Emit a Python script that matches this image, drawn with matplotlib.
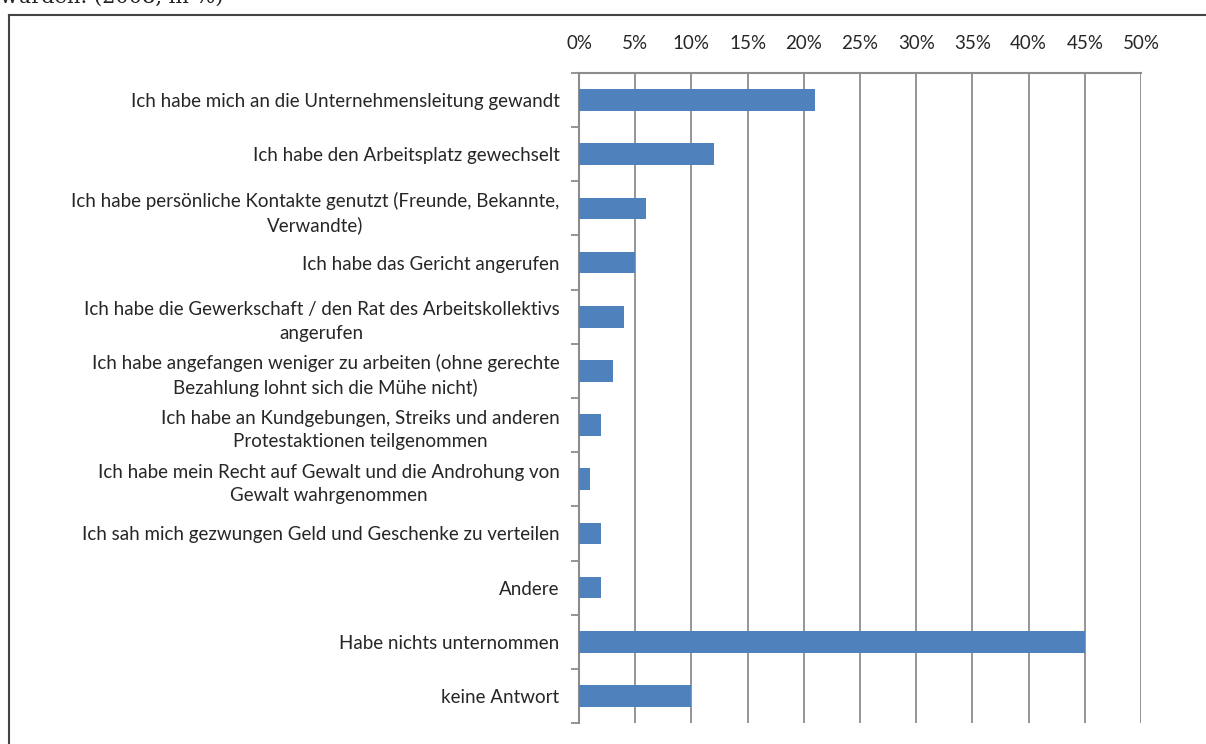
import numpy as np
import matplotlib.pyplot as plt
from matplotlib.lines import Line2D
from matplotlib.ticker import FuncFormatter, FixedLocator

plt.rcParams['font.family'] = ['Lato', 'DejaVu Sans']

categories = [
    "Ich habe mich an die Unternehmensleitung gewandt",
    "Ich habe den Arbeitsplatz gewechselt",
    "Ich habe persönliche Kontakte genutzt (Freunde, Bekannte,\nVerwandte)",
    "Ich habe das Gericht angerufen",
    "Ich habe die Gewerkschaft / den Rat des Arbeitskollektivs\nangerufen",
    "Ich habe angefangen weniger zu arbeiten (ohne gerechte\nBezahlung lohnt sich die Mühe nicht)",
    "Ich habe an Kundgebungen, Streiks und anderen\nProtestaktionen teilgenommen",
    "Ich habe mein Recht auf Gewalt und die Androhung von\nGewalt wahrgenommen",
    "Ich sah mich gezwungen Geld und Geschenke zu verteilen",
    "Andere",
    "Habe nichts unternommen",
    "keine Antwort",
]
values = [21, 12, 6, 5, 4, 3, 2, 1, 2, 2, 45, 10]
x_ticks = [0, 5, 10, 15, 20, 25, 30, 35, 40, 45, 50]

fig = plt.figure(figsize=(12.06, 7.44), dpi=100)
ax = fig.add_axes([0.4801, 0.0282, 0.9461 - 0.4801, 0.9019 - 0.0282])

y = np.arange(len(categories))
ax.barh(y, values, height=0.4, color='#4F81BD', zorder=3)

ax.set_xlim(0, 50)
ax.set_ylim(len(categories) - 0.5, -0.5)
ax.xaxis.set_major_locator(FixedLocator(x_ticks))
ax.xaxis.set_major_formatter(FuncFormatter(lambda v, p: f"{v:.0f}%"))
ax.xaxis.tick_top()
ax.tick_params(axis='x', length=0, pad=15, labelsize=13.5, colors='#262626')
ax.grid(axis='x', color='#8c8c8c', linewidth=1.3, zorder=0)

ax.set_yticks(y)
ax.set_yticklabels(categories)
ax.tick_params(axis='y', which='major', length=0, pad=14, labelsize=13.5,
               colors='#262626')
for lab in ax.get_yticklabels():
    lab.set_multialignment('center')
    lab.set_linespacing(1.45)
ax.set_yticks(np.arange(-0.5, len(categories)), minor=True)
ax.tick_params(axis='y', which='minor', length=6, width=1.3, color='#8c8c8c')

for side in ['right', 'bottom']:
    ax.spines[side].set_visible(False)
for side in ['top', 'left']:
    ax.spines[side].set_color('#8c8c8c')
    ax.spines[side].set_linewidth(1.5)

# surrounding frame (left and top border)
fig.add_artist(Line2D([9 / 1206, 9 / 1206], [0, 1 - 15 / 744],
                      transform=fig.transFigure, color='#444444', linewidth=1.5))
fig.add_artist(Line2D([9 / 1206, 1], [1 - 15 / 744, 1 - 15 / 744],
                      transform=fig.transFigure, color='#444444', linewidth=1.5))

# caption cut off above the frame
fig.text(0.0, 1 - 3 / 744, "wurden: (2008, in %)", family='DejaVu Serif',
         fontsize=15, va='baseline', ha='left', color='#222222')

fig.savefig('out.png', dpi=100)
